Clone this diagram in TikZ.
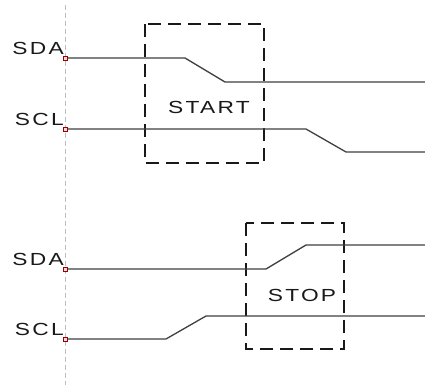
\documentclass[tikz,border=0pt]{standalone}
\usepackage{fontspec}
\setmainfont{Liberation Sans}
\newfontfamily\labfont[LetterSpace=10]{Liberation Sans}
\newcommand{\stretchtxt}[1]{\scalebox{1.3}[1]{#1}}
\begin{document}
\begin{tikzpicture}[x=1pt,y=-1pt,
  sig/.style={draw=black!75,line width=1.3pt},
  frame/.style={draw=black!90,line width=1.8pt,dash pattern=on 13pt off 7pt},
  guide/.style={draw=black!25,line width=1pt,dash pattern=on 5pt off 3pt},
  pinbox/.style={draw=red!60!black,fill=red!15,line width=0.6pt,minimum size=4pt,inner sep=0pt,rectangle},
  lab/.style={font=\labfont\fontsize{17.5}{17.5}\selectfont,inner sep=0pt,text=black!90}]
\useasboundingbox (0,0) rectangle (425,385);
\fill[white] (0,0) rectangle (425,385);
% guide line
\coordinate (gt) at (65,5);
\coordinate (gb) at (65,385);
\draw[guide] (gt) -- (gb);
% START frame
\draw[frame] (145,24) rectangle (264,163);
\node[lab,anchor=center] (start) at (209,107) {\stretchtxt{START}};
% STOP frame
\draw[frame] (246,223) rectangle (344,349);
\node[lab,anchor=center] (stop) at (302,295) {\stretchtxt{STOP}};
% top SDA
\coordinate (a0) at (65,58);
\coordinate (a1) at (185,58);
\coordinate (a2) at (225,82);
\coordinate (a3) at (425,82);
\draw[sig] (a0) -- (a1) -- (a2) -- (a3);
% top SCL
\coordinate (b0) at (65,129);
\coordinate (b1) at (306,129);
\coordinate (b2) at (346,152);
\coordinate (b3) at (425,152);
\draw[sig] (b0) -- (b1) -- (b2) -- (b3);
% bottom SDA
\coordinate (c0) at (65,269);
\coordinate (c1) at (266,269);
\coordinate (c2) at (306,245);
\coordinate (c3) at (425,245);
\draw[sig] (c0) -- (c1) -- (c2) -- (c3);
% bottom SCL
\coordinate (d0) at (65,339);
\coordinate (d1) at (166,339);
\coordinate (d2) at (206,316);
\coordinate (d3) at (425,316);
\draw[sig] (d0) -- (d1) -- (d2) -- (d3);
% markers
\node[pinbox] (ma) at (a0) {};
\node[pinbox] (mb) at (b0) {};
\node[pinbox] (mc) at (c0) {};
\node[pinbox] (md) at (d0) {};
% labels
\node[lab,anchor=base east] (sda1) at (64,55) {\stretchtxt{SDA}};
\node[lab,anchor=base east] (scl1) at (64,125) {\stretchtxt{SCL}};
\node[lab,anchor=base east] (sda2) at (64,265) {\stretchtxt{SDA}};
\node[lab,anchor=base east] (scl2) at (64,335) {\stretchtxt{SCL}};
\end{tikzpicture}
\end{document}
